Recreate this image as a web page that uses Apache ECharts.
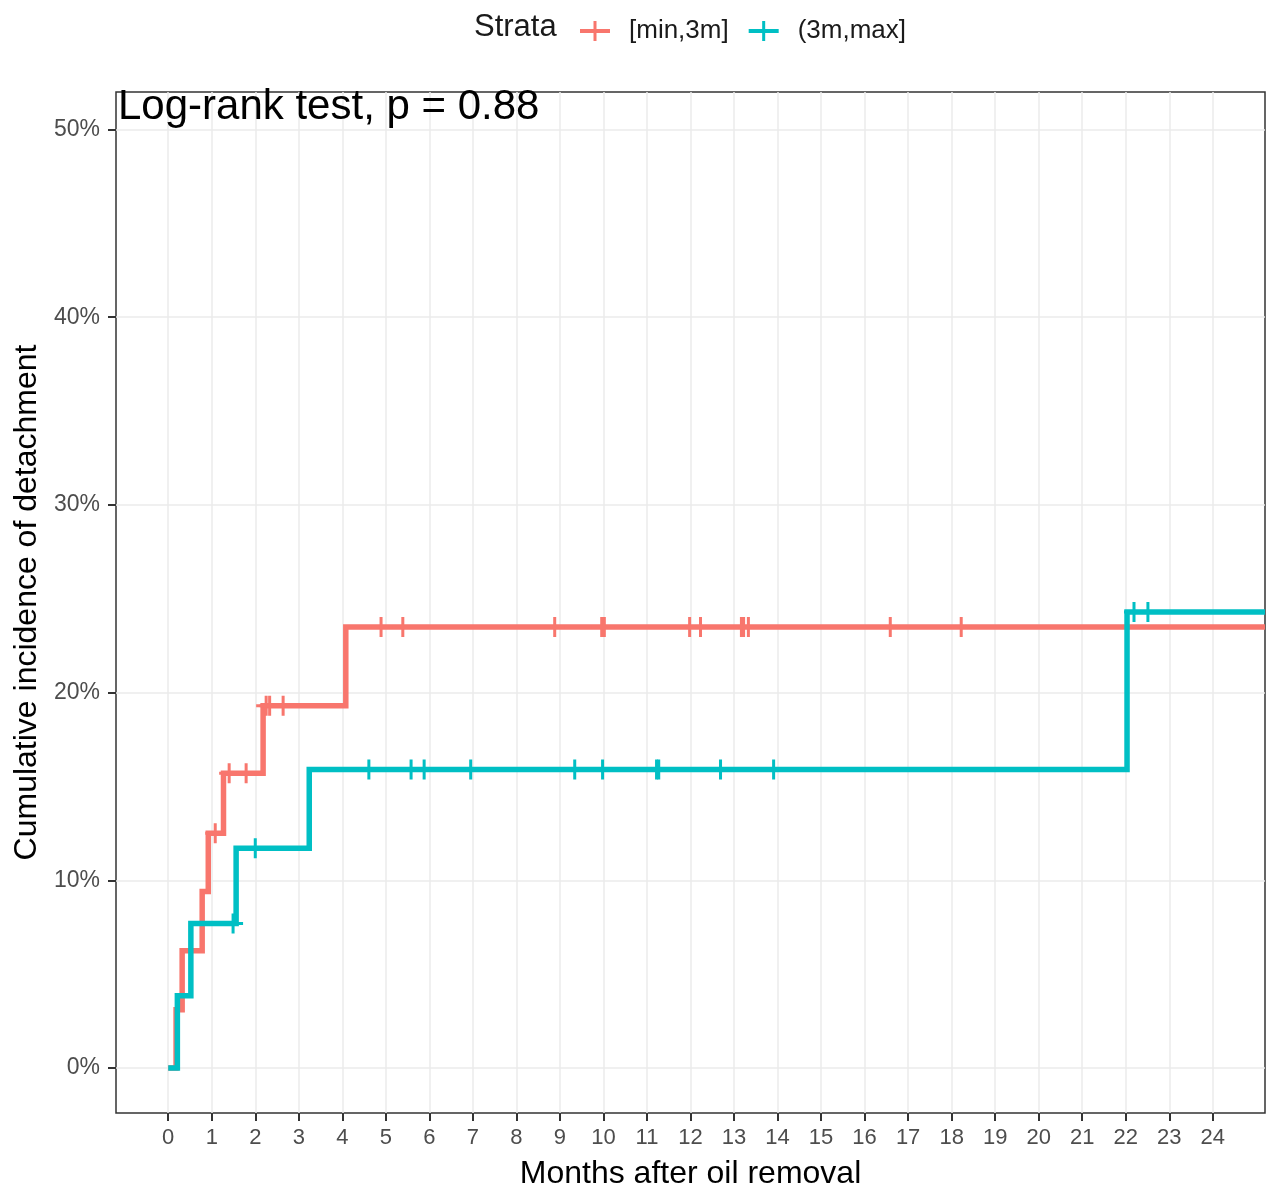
<!DOCTYPE html>
<html>
<head>
<meta charset="utf-8">
<style>
  html, body { margin: 0; padding: 0; background: #ffffff; }
  #chart { width: 1266px; height: 1184px; }
</style>
<script src="https://cdn.jsdelivr.net/npm/echarts@6/dist/echarts.min.js"></script>
</head>
<body>
<div id="chart"></div>
<script>
// ---- Data ----
const seriesNames = ['[min,3m]', '(3m,max]'];

// Step curve, stratum [min,3m]: event times (months) and cumulative incidence (%)
const redTimes  = [0, 0.18, 0.32, 0.78, 0.92, 1.27, 2.18, 4.08, 25.2];
const redValues = [0, 3.1, 6.25, 9.4, 12.5, 15.7, 19.3, 23.5, 23.5];

// Step curve, stratum (3m,max]
const cyanTimes  = [0, 0.21, 0.52, 1.56, 3.24, 22.03, 25.2];
const cyanValues = [0, 3.85, 7.7, 11.7, 15.9, 24.3, 24.3];

// Censoring marks: time and curve level (%)
const redCensorTimes  = [1.08, 1.40, 1.79, 2.25, 2.33, 2.64, 4.89, 5.39, 8.88, 9.96, 10.02, 11.98, 12.23, 13.17, 13.22, 13.33, 16.59, 18.22];
const redCensorValues = [12.5, 15.7, 15.7, 19.3, 19.3, 19.3, 23.5, 23.5, 23.5, 23.5, 23.5, 23.5, 23.5, 23.5, 23.5, 23.5, 23.5, 23.5];
const cyanCensorTimes  = [1.49, 2.00, 4.61, 5.58, 5.88, 6.95, 9.34, 9.98, 11.22, 11.27, 12.69, 13.91, 22.19, 22.51];
const cyanCensorValues = [7.7, 11.7, 15.9, 15.9, 15.9, 15.9, 15.9, 15.9, 15.9, 15.9, 15.9, 15.9, 24.3, 24.3];

// Axis ranges / ticks
const xTickMin = 0, xTickMax = 24, xTickStep = 1;
const yTickMin = 0, yTickMax = 50, yTickStep = 10;
const xViewMin = -1.2, xViewMax = 25.2;
const yViewMin = -2.4, yViewMax = 52.0;

// ---- Layout ----
const FONT = "'Liberation Sans', Arial, Helvetica, sans-serif";
const RED = '#F8766D', CYAN = '#00BFC4';
const panel = { left: 116, top: 92, width: 1149, height: 1021 };
const xScale = panel.width / (xViewMax - xViewMin);
const yScale = panel.height / (yViewMax - yViewMin);

const gridX = {
  left: panel.left + (xTickMin - xViewMin) * xScale,
  width: (xTickMax - xTickMin) * xScale,
  top: panel.top, height: panel.height
};
const gridY = {
  left: panel.left, width: panel.width,
  top: panel.top + (yViewMax - yTickMax) * yScale,
  height: (yTickMax - yTickMin) * yScale
};

const zip = (a, b) => a.map((v, i) => [v, b[i]]);
const censorSymbol = 'path://M8.5,0h3v20h-3z M0,8.5h20v3h-20z';
const legendIcon = 'path://M13.5,0h3v20h-3z M0,8h30v4h-30z';

const chart = echarts.init(document.getElementById('chart'), null, { renderer: 'canvas' });

const gridCommon = { containLabel: false, outerBoundsMode: 'none' };

chart.setOption({
  animation: false,
  backgroundColor: '#ffffff',
  textStyle: { fontFamily: FONT },
  title: {
    text: 'Strata',
    left: 469, top: 7,
    textStyle: { fontFamily: FONT, fontSize: 31, fontWeight: 'normal', color: '#1A1A1A' }
  },
  legend: {
    left: 575, top: 13,
    itemWidth: 30, itemHeight: 20, itemGap: 20,
    data: [
      { name: seriesNames[0], icon: legendIcon },
      { name: seriesNames[1], icon: legendIcon }
    ],
    textStyle: { fontFamily: FONT, fontSize: 26, color: '#1A1A1A', padding: [0, 0, 0, 14] }
  },
  graphic: [{
    type: 'text', left: 118, top: 86, z: 100,
    style: { text: 'Log-rank test, p = 0.88', fontSize: 42, fontFamily: FONT, fill: '#000000' }
  }],
  grid: [
    Object.assign({ left: panel.left, top: panel.top, width: panel.width, height: panel.height,
      show: true, borderColor: '#333333', borderWidth: 1.5, backgroundColor: 'transparent' }, gridCommon),
    Object.assign({ left: gridX.left, top: gridX.top, width: gridX.width, height: gridX.height, show: false }, gridCommon),
    Object.assign({ left: gridY.left, top: gridY.top, width: gridY.width, height: gridY.height, show: false }, gridCommon)
  ],
  xAxis: [
    { gridIndex: 0, type: 'value', min: xViewMin, max: xViewMax,
      axisLine: { show: false, onZero: false }, axisTick: { show: false }, axisLabel: { show: false }, splitLine: { show: false } },
    { gridIndex: 1, type: 'value', min: xTickMin, max: xTickMax, interval: xTickStep, position: 'bottom',
      name: 'Months after oil removal', nameLocation: 'middle', nameGap: 45,
      nameTextStyle: { fontFamily: FONT, fontSize: 32, color: '#000000' },
      axisLine: { show: false, onZero: false },
      axisTick: { show: true, length: 8, lineStyle: { color: '#333333', width: 2 } },
      axisLabel: { show: true, margin: 14, fontSize: 22, color: '#4D4D4D', fontFamily: FONT },
      splitLine: { show: true, lineStyle: { color: '#EBEBEB', width: 1.5 } } },
    { gridIndex: 2, type: 'value', min: xViewMin, max: xViewMax, show: false,
      axisLine: { onZero: false } }
  ],
  yAxis: [
    { gridIndex: 0, type: 'value', min: yViewMin, max: yViewMax,
      name: 'Cumulative incidence of detachment', nameLocation: 'middle', nameGap: 73,
      nameTextStyle: { fontFamily: FONT, fontSize: 32, color: '#000000' },
      axisLine: { show: false, onZero: false }, axisTick: { show: false }, axisLabel: { show: false }, splitLine: { show: false } },
    { gridIndex: 1, type: 'value', min: yViewMin, max: yViewMax, show: false,
      axisLine: { onZero: false } },
    { gridIndex: 2, type: 'value', min: yTickMin, max: yTickMax, interval: yTickStep, position: 'left',
      axisLine: { show: false, onZero: false },
      axisTick: { show: true, length: 8, lineStyle: { color: '#333333', width: 2 } },
      axisLabel: { show: true, margin: 16, fontSize: 23, color: '#4D4D4D', fontFamily: FONT,
                   formatter: '{value}%' },
      splitLine: { show: true, lineStyle: { color: '#EBEBEB', width: 1.5 } } }
  ],
  series: [
    { name: seriesNames[0], type: 'line', step: 'end', xAxisIndex: 0, yAxisIndex: 0,
      data: zip(redTimes, redValues), symbol: 'none', clip: true,
      lineStyle: { color: RED, width: 5.5, cap: 'butt', join: 'miter' }, itemStyle: { color: RED }, z: 3 },
    { name: seriesNames[1], type: 'line', step: 'end', xAxisIndex: 0, yAxisIndex: 0,
      data: zip(cyanTimes, cyanValues), symbol: 'none', clip: true,
      lineStyle: { color: CYAN, width: 5.5, cap: 'butt', join: 'miter' }, itemStyle: { color: CYAN }, z: 4 },
    { name: seriesNames[0], type: 'scatter', xAxisIndex: 0, yAxisIndex: 0,
      data: zip(redCensorTimes, redCensorValues), symbol: censorSymbol, symbolSize: [20, 20],
      itemStyle: { color: RED, opacity: 1 }, z: 5 },
    { name: seriesNames[1], type: 'scatter', xAxisIndex: 0, yAxisIndex: 0,
      data: zip(cyanCensorTimes, cyanCensorValues), symbol: censorSymbol, symbolSize: [20, 20],
      itemStyle: { color: CYAN, opacity: 1 }, z: 5 }
  ]
});
</script>
</body>
</html>
